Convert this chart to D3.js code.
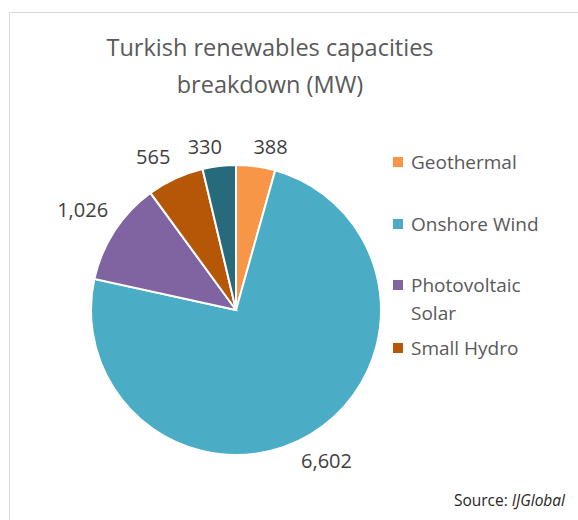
<!DOCTYPE html>
<html>
<head>
<meta charset="utf-8">
<script src="https://cdn.jsdelivr.net/npm/d3@7"></script>
<style>
  body { margin: 0; background: #fff; }
  text { font-family: "Open Sans", "Noto Sans", sans-serif; }
</style>
</head>
<body>
<div id="chart"></div>
<script>
const categories = ['Geothermal', 'Onshore Wind', 'Photovoltaic Solar', 'Small Hydro', 'Other'];
const values = [388, 6602, 1026, 565, 330];
const colors = ['#F79646', '#4BACC6', '#8064A2', '#B65708', '#276A7C'];
const legendItems = [['Geothermal'], ['Onshore Wind'], ['Photovoltaic', 'Solar'], ['Small Hydro']];
const titleLines = ['Turkish renewables capacities', 'breakdown (MW)'];

const width = 578, height = 520;
const cx = 236, cy = 310, radius = 145;

const svg = d3.select('#chart').append('svg')
  .attr('width', width)
  .attr('height', height);

// chart frame (top and left edges visible)
svg.append('path')
  .attr('d', `M9.5,${height} V12.5 H${width}`)
  .attr('fill', 'none')
  .attr('stroke', '#d9d9d9')
  .attr('stroke-width', 1);

// title
svg.append('g').selectAll('text')
  .data(titleLines)
  .join('text')
  .attr('x', 270)
  .attr('y', (d, i) => 56 + i * 37)
  .attr('text-anchor', 'middle')
  .attr('font-size', 23.5)
  .attr('fill', '#595959')
  .text(d => d);

const pie = d3.pie().sort(null).value(d => d);
const arcs = pie(values);
const arc = d3.arc().innerRadius(0).outerRadius(radius);

const g = svg.append('g').attr('transform', `translate(${cx},${cy})`);

g.selectAll('path')
  .data(arcs)
  .join('path')
  .attr('d', arc)
  .attr('fill', (d, i) => colors[i])
  .attr('stroke', '#fff')
  .attr('stroke-width', 2);

// data labels, outside end
const fmt = d3.format(',');
g.selectAll('text.lbl')
  .data(arcs)
  .join('text')
  .attr('class', 'lbl')
  .each(function(d) {
    const a = (d.startAngle + d.endAngle) / 2;
    const s = Math.sin(a), c = -Math.cos(a);
    const label = fmt(d.data);
    const halfW = label.length * 5.8;
    const dist = radius + 10 + halfW * Math.abs(s) + 7 * Math.abs(c);
    // spread labels sitting near the top apart
    const push = Math.abs(s) < 0.5 ? Math.sign(s) * halfW * 0.7 : 0;
    d3.select(this)
      .attr('x', dist * s + push)
      .attr('y', dist * c)
      .attr('dy', '0.35em')
      .attr('text-anchor', 'middle')
      .attr('font-size', 20)
      .attr('fill', '#404040')
      .text(label);
  });

// legend
const legend = svg.append('g');
const legendY = [162, 224, 285, 348];
legendItems.forEach((lines, i) => {
  const row = legend.append('g').attr('transform', `translate(393,${legendY[i]})`);
  row.append('rect')
    .attr('x', 0).attr('y', -5)
    .attr('width', 10).attr('height', 10)
    .attr('fill', colors[i]);
  row.selectAll('text')
    .data(lines)
    .join('text')
    .attr('x', 18)
    .attr('y', (d, j) => j * 28)
    .attr('dy', '0.35em')
    .attr('font-size', 19)
    .attr('fill', '#595959')
    .text(d => d);
});

// source note
const src = svg.append('text')
  .attr('x', 565)
  .attr('y', 506)
  .attr('text-anchor', 'end')
  .attr('font-size', 15.5)
  .attr('fill', '#262626');
src.append('tspan').text('Source: ');
src.append('tspan').attr('font-style', 'italic').text('IJGlobal');
</script>
</body>
</html>
